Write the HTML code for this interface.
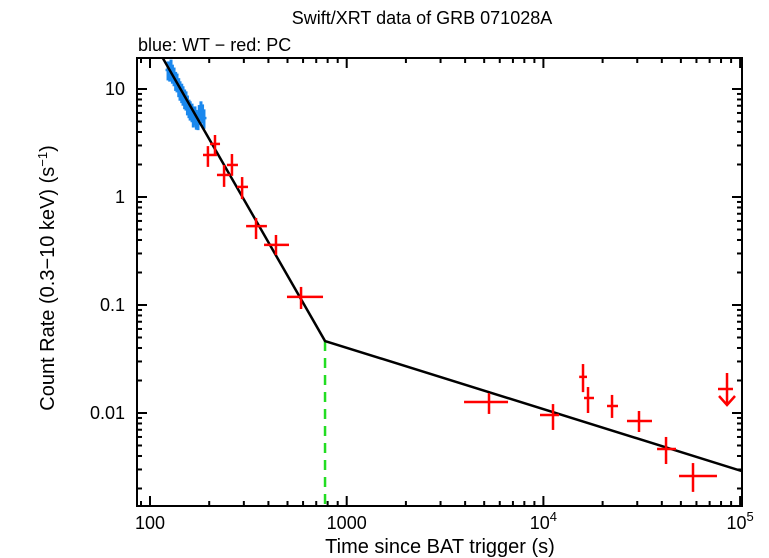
<!DOCTYPE html>
<html><head><meta charset="utf-8"><style>
html,body{margin:0;padding:0;background:#fff;}
svg{display:block;font-family:"Liberation Sans",Arial,sans-serif;}
</style></head><body>
<svg id="chart" width="769" height="558" viewBox="0 0 769 558" xmlns="http://www.w3.org/2000/svg">
<rect width="769" height="558" fill="#fff"/>
<text x="422" y="24" font-size="18" text-anchor="middle">Swift/XRT data of GRB 071028A</text>
<text x="138" y="51" font-size="18">blue: WT − red: PC</text>
<text x="440" y="553" font-size="20" text-anchor="middle">Time since BAT trigger (s)</text>
<text transform="translate(54,278) rotate(-90)" font-size="20" text-anchor="middle">Count Rate (0.3−10 keV) (s<tspan dy="-7" font-size="13">−1</tspan><tspan dy="7">)</tspan></text>
<defs><clipPath id="clip"><rect x="137" y="58" width="605" height="448"/></clipPath></defs>
<g id="ticks"></g>
<g id="marks" clip-path="url(#clip)"></g>
<rect x="137" y="58" width="605" height="448" fill="none" stroke="#000" stroke-width="2"/>
</svg>
<script>
// ---- data ----
const pcT   = [197, 214, 238, 261, 294, 346, 437, 586, 5290, 11190, 15900, 16860, 22330, 30620, 42020, 57620];
const pcTlo = [186, 202, 219, 246, 277, 308, 380, 497, 3950, 9610, 15200, 16090, 21060, 26600, 37830, 48930];
const pcThi = [219, 227, 255, 280, 315, 393, 509, 758, 6610, 12000, 16660, 18080, 23950, 35650, 47220, 76290];
const pcR   = [2.45, 3.10, 1.60, 1.98, 1.24, 0.538, 0.360, 0.119, 0.01265, 0.00958, 0.0216, 0.01377, 0.01161, 0.00844, 0.00464, 0.00261];
const pcRlo = [1.90, 2.40, 1.24, 1.57, 0.957, 0.408, 0.290, 0.0918, 0.0098, 0.00697, 0.0156, 0.0100, 0.0090, 0.00667, 0.00337, 0.00186];
const pcRhi = [2.96, 3.75, 1.98, 2.50, 1.53, 0.640, 0.445, 0.147, 0.0153, 0.0121, 0.0284, 0.0174, 0.0147, 0.01044, 0.0060, 0.00344];
const ulT = [85800], ulTlo = [77200], ulThi = [92000], ulR = [0.01668];
const wtT   = [123.5, 126, 127.9, 130, 132.5, 135, 137.2, 140, 142.1, 145, 147.2, 150, 152.4, 155, 157.8, 160, 163.5, 166, 169.3, 172, 175.4, 178, 181.6, 185, 188.1];
const wtR   = [15.0, 14.5, 15.6, 14.0, 13.2, 12.0, 11.6, 10.5, 9.79, 9.3, 8.80, 8.2, 7.91, 7.2, 6.67, 6.4, 6.12, 5.6, 5.75, 5.3, 5.16, 5.9, 6.39, 6.0, 5.38];
const wtErr = [3.0, 2.8, 3.1, 2.8, 2.6, 2.4, 2.3, 2.1, 2.0, 1.9, 1.8, 1.7, 1.6, 1.5, 1.3, 1.3, 1.2, 1.2, 1.15, 1.1, 1.0, 1.2, 1.3, 1.2, 1.1];
const modelT = [116, 776, 102000];
const modelR = [19.4, 0.0464, 0.00290];
const breakT = [776];
const xTickVals = [100, 1000, 10000, 100000];
const xTickLabels = [["100",""],["1000",""],["10","4"],["10","5"]];
const yTickVals = [0.01, 0.1, 1, 10];
const yTickLabels = ["0.01", "0.1", "1", "10"];
// ---- axes ----
const L=137,R=742,T=58,B=506;
const X = t => 150 + (Math.log10(t)-2)*196.7;
const Y = r => 89 + (1-Math.log10(r))*108;
const NS="http://www.w3.org/2000/svg";
function mk(tag, attrs, parent){const e=document.createElementNS(NS,tag);for(const k in attrs)e.setAttribute(k,attrs[k]);parent.appendChild(e);return e;}
const ticks=document.getElementById('ticks'), marks=document.getElementById('marks');
for(let d=1;d<=5;d++){for(let m=1;m<10;m++){const v=m*Math.pow(10,d);const x=X(v);if(x<L+1||x>R+1)continue;
 const len=m===1?10:5;
 const a=mk('line',{x1:x,x2:x,y1:B,y2:B-len,stroke:'#000','stroke-width':2},ticks);
 
 
 const b=mk('line',{x1:x,x2:x,y1:T,y2:T+len,stroke:'#000','stroke-width':2},ticks);
 
 }}
xTickVals.forEach((v,i)=>{const t=mk('text',{x:X(v),y:529,'font-size':18,'text-anchor':'middle'},ticks);
 
 
 t.textContent=xTickLabels[i][0];
 if(xTickLabels[i][1]){const s=mk('tspan',{dy:-8,'font-size':13},t);s.textContent=xTickLabels[i][1];}});
for(let d=-3;d<=1;d++){for(let m=1;m<10;m++){const v=m*Math.pow(10,d);const y=Y(v);if(y<T||y>B)continue;
 const len=m===1?10:5;
 const a=mk('line',{x1:L,x2:L+len,y1:y,y2:y,stroke:'#000','stroke-width':2},ticks);
 
 
 const b=mk('line',{x1:R,x2:R-len,y1:y,y2:y,stroke:'#000','stroke-width':2},ticks);
 
 }}
yTickVals.forEach((v,i)=>{const t=mk('text',{x:125,y:Y(v)+6,'font-size':18,'text-anchor':'end'},ticks);
 
 
 t.textContent=yTickLabels[i];});
breakT.forEach(bt=>{const l=mk('line',{x1:X(bt),x2:X(bt),y1:Y(modelR[1]),y2:B,stroke:'#22dd22','stroke-width':2.5,'stroke-dasharray':'10,7'},marks);
 
 });
wtT.forEach((t,i)=>{const l=mk('line',{x1:X(t),x2:X(t),y1:Y(wtR[i]+wtErr[i]),y2:Y(wtR[i]-wtErr[i]),stroke:'#1a88ee','stroke-width':3},marks);
 
 
 const h=mk('line',{x1:X(t)-2.5,x2:X(t)+2.5,y1:Y(wtR[i]),y2:Y(wtR[i]),stroke:'#1a88ee','stroke-width':2.5},marks);
 
 });
const pts=modelT.map((t,i)=>X(t)+','+Y(modelR[i])).join(' ');
const ml=mk('polyline',{points:pts,fill:'none',stroke:'#000','stroke-width':2.5},marks);


pcT.forEach((t,i)=>{const g=mk('g',{stroke:'#ff0000','stroke-width':2.5},marks);
 
 
 mk('line',{x1:X(pcTlo[i]),x2:X(pcThi[i]),y1:Y(pcR[i]),y2:Y(pcR[i])},g);
 mk('line',{x1:X(t),x2:X(t),y1:Y(pcRhi[i]),y2:Y(pcRlo[i])},g);});
ulT.forEach((t,i)=>{const g=mk('g',{stroke:'#ff0000','stroke-width':2.5,fill:'none'},marks);
 
 
 const x=X(t),y=Y(ulR[i]);
 mk('line',{x1:X(ulTlo[i]),x2:X(ulThi[i]),y1:y,y2:y},g);
 mk('line',{x1:x,x2:x,y1:y-16,y2:y+16},g);
 mk('polyline',{points:(x-8)+','+(y+7)+' '+x+','+(y+16)+' '+(x+8)+','+(y+7)},g);});
</script>
</body></html>
